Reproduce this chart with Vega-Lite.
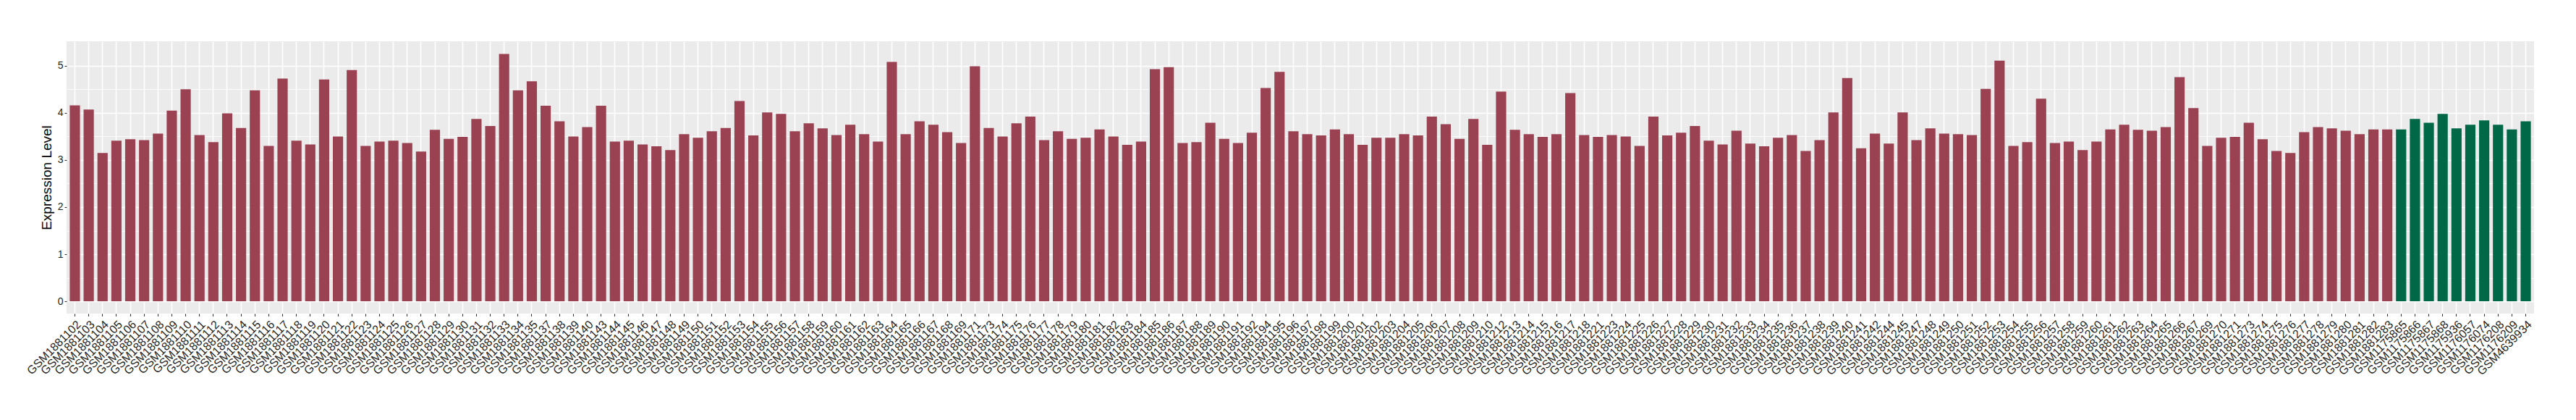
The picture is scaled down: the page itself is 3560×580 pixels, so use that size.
{
  "$schema": "https://vega.github.io/schema/vega-lite/v6.json",
  "width": 3410,
  "height": 376,
  "autosize": {"type": "none"},
  "padding": {"left": 92, "top": 57, "right": 58, "bottom": 147},
  "background": "white",
  "config": {
    "view": {"fill": "#EBEBEB", "stroke": null},
    "font": "Liberation Sans",
    "axis": {"domain": false, "tickColor": "#333333", "tickWidth": 1.1, "labelColor": "#1f1f1f", "titleColor": "#000000", "titleFontWeight": "normal"}
  },
  "data": {"values": [
    {"sample": "GSM1881102", "expr": 4.16, "group": "A"},
    {"sample": "GSM1881103", "expr": 4.07, "group": "A"},
    {"sample": "GSM1881104", "expr": 3.15, "group": "A"},
    {"sample": "GSM1881105", "expr": 3.41, "group": "A"},
    {"sample": "GSM1881106", "expr": 3.44, "group": "A"},
    {"sample": "GSM1881107", "expr": 3.42, "group": "A"},
    {"sample": "GSM1881108", "expr": 3.56, "group": "A"},
    {"sample": "GSM1881109", "expr": 4.05, "group": "A"},
    {"sample": "GSM1881110", "expr": 4.50, "group": "A"},
    {"sample": "GSM1881111", "expr": 3.53, "group": "A"},
    {"sample": "GSM1881112", "expr": 3.38, "group": "A"},
    {"sample": "GSM1881113", "expr": 3.99, "group": "A"},
    {"sample": "GSM1881114", "expr": 3.68, "group": "A"},
    {"sample": "GSM1881115", "expr": 4.48, "group": "A"},
    {"sample": "GSM1881116", "expr": 3.30, "group": "A"},
    {"sample": "GSM1881117", "expr": 4.73, "group": "A"},
    {"sample": "GSM1881118", "expr": 3.41, "group": "A"},
    {"sample": "GSM1881119", "expr": 3.33, "group": "A"},
    {"sample": "GSM1881120", "expr": 4.71, "group": "A"},
    {"sample": "GSM1881121", "expr": 3.50, "group": "A"},
    {"sample": "GSM1881122", "expr": 4.91, "group": "A"},
    {"sample": "GSM1881123", "expr": 3.30, "group": "A"},
    {"sample": "GSM1881124", "expr": 3.39, "group": "A"},
    {"sample": "GSM1881125", "expr": 3.41, "group": "A"},
    {"sample": "GSM1881126", "expr": 3.36, "group": "A"},
    {"sample": "GSM1881127", "expr": 3.18, "group": "A"},
    {"sample": "GSM1881128", "expr": 3.64, "group": "A"},
    {"sample": "GSM1881129", "expr": 3.45, "group": "A"},
    {"sample": "GSM1881130", "expr": 3.49, "group": "A"},
    {"sample": "GSM1881131", "expr": 3.87, "group": "A"},
    {"sample": "GSM1881132", "expr": 3.72, "group": "A"},
    {"sample": "GSM1881133", "expr": 5.25, "group": "A"},
    {"sample": "GSM1881134", "expr": 4.48, "group": "A"},
    {"sample": "GSM1881135", "expr": 4.67, "group": "A"},
    {"sample": "GSM1881137", "expr": 4.15, "group": "A"},
    {"sample": "GSM1881138", "expr": 3.82, "group": "A"},
    {"sample": "GSM1881139", "expr": 3.50, "group": "A"},
    {"sample": "GSM1881140", "expr": 3.70, "group": "A"},
    {"sample": "GSM1881143", "expr": 4.15, "group": "A"},
    {"sample": "GSM1881144", "expr": 3.39, "group": "A"},
    {"sample": "GSM1881145", "expr": 3.41, "group": "A"},
    {"sample": "GSM1881146", "expr": 3.33, "group": "A"},
    {"sample": "GSM1881147", "expr": 3.29, "group": "A"},
    {"sample": "GSM1881148", "expr": 3.21, "group": "A"},
    {"sample": "GSM1881149", "expr": 3.55, "group": "A"},
    {"sample": "GSM1881150", "expr": 3.47, "group": "A"},
    {"sample": "GSM1881151", "expr": 3.61, "group": "A"},
    {"sample": "GSM1881152", "expr": 3.68, "group": "A"},
    {"sample": "GSM1881153", "expr": 4.25, "group": "A"},
    {"sample": "GSM1881154", "expr": 3.52, "group": "A"},
    {"sample": "GSM1881155", "expr": 4.01, "group": "A"},
    {"sample": "GSM1881156", "expr": 3.98, "group": "A"},
    {"sample": "GSM1881157", "expr": 3.61, "group": "A"},
    {"sample": "GSM1881158", "expr": 3.78, "group": "A"},
    {"sample": "GSM1881159", "expr": 3.67, "group": "A"},
    {"sample": "GSM1881160", "expr": 3.53, "group": "A"},
    {"sample": "GSM1881161", "expr": 3.75, "group": "A"},
    {"sample": "GSM1881162", "expr": 3.55, "group": "A"},
    {"sample": "GSM1881163", "expr": 3.39, "group": "A"},
    {"sample": "GSM1881164", "expr": 5.08, "group": "A"},
    {"sample": "GSM1881165", "expr": 3.55, "group": "A"},
    {"sample": "GSM1881166", "expr": 3.82, "group": "A"},
    {"sample": "GSM1881167", "expr": 3.75, "group": "A"},
    {"sample": "GSM1881168", "expr": 3.59, "group": "A"},
    {"sample": "GSM1881169", "expr": 3.36, "group": "A"},
    {"sample": "GSM1881171", "expr": 4.99, "group": "A"},
    {"sample": "GSM1881173", "expr": 3.68, "group": "A"},
    {"sample": "GSM1881174", "expr": 3.50, "group": "A"},
    {"sample": "GSM1881175", "expr": 3.78, "group": "A"},
    {"sample": "GSM1881176", "expr": 3.92, "group": "A"},
    {"sample": "GSM1881177", "expr": 3.42, "group": "A"},
    {"sample": "GSM1881178", "expr": 3.61, "group": "A"},
    {"sample": "GSM1881179", "expr": 3.45, "group": "A"},
    {"sample": "GSM1881180", "expr": 3.47, "group": "A"},
    {"sample": "GSM1881181", "expr": 3.65, "group": "A"},
    {"sample": "GSM1881182", "expr": 3.50, "group": "A"},
    {"sample": "GSM1881183", "expr": 3.32, "group": "A"},
    {"sample": "GSM1881184", "expr": 3.39, "group": "A"},
    {"sample": "GSM1881185", "expr": 4.93, "group": "A"},
    {"sample": "GSM1881186", "expr": 4.97, "group": "A"},
    {"sample": "GSM1881187", "expr": 3.36, "group": "A"},
    {"sample": "GSM1881188", "expr": 3.38, "group": "A"},
    {"sample": "GSM1881189", "expr": 3.79, "group": "A"},
    {"sample": "GSM1881190", "expr": 3.45, "group": "A"},
    {"sample": "GSM1881191", "expr": 3.36, "group": "A"},
    {"sample": "GSM1881192", "expr": 3.58, "group": "A"},
    {"sample": "GSM1881194", "expr": 4.53, "group": "A"},
    {"sample": "GSM1881195", "expr": 4.87, "group": "A"},
    {"sample": "GSM1881196", "expr": 3.61, "group": "A"},
    {"sample": "GSM1881197", "expr": 3.55, "group": "A"},
    {"sample": "GSM1881198", "expr": 3.52, "group": "A"},
    {"sample": "GSM1881199", "expr": 3.65, "group": "A"},
    {"sample": "GSM1881200", "expr": 3.55, "group": "A"},
    {"sample": "GSM1881201", "expr": 3.32, "group": "A"},
    {"sample": "GSM1881202", "expr": 3.47, "group": "A"},
    {"sample": "GSM1881203", "expr": 3.47, "group": "A"},
    {"sample": "GSM1881204", "expr": 3.55, "group": "A"},
    {"sample": "GSM1881205", "expr": 3.52, "group": "A"},
    {"sample": "GSM1881206", "expr": 3.92, "group": "A"},
    {"sample": "GSM1881207", "expr": 3.76, "group": "A"},
    {"sample": "GSM1881208", "expr": 3.45, "group": "A"},
    {"sample": "GSM1881209", "expr": 3.87, "group": "A"},
    {"sample": "GSM1881210", "expr": 3.32, "group": "A"},
    {"sample": "GSM1881212", "expr": 4.45, "group": "A"},
    {"sample": "GSM1881213", "expr": 3.64, "group": "A"},
    {"sample": "GSM1881214", "expr": 3.55, "group": "A"},
    {"sample": "GSM1881215", "expr": 3.49, "group": "A"},
    {"sample": "GSM1881216", "expr": 3.55, "group": "A"},
    {"sample": "GSM1881217", "expr": 4.42, "group": "A"},
    {"sample": "GSM1881218", "expr": 3.53, "group": "A"},
    {"sample": "GSM1881221", "expr": 3.49, "group": "A"},
    {"sample": "GSM1881223", "expr": 3.53, "group": "A"},
    {"sample": "GSM1881224", "expr": 3.50, "group": "A"},
    {"sample": "GSM1881225", "expr": 3.30, "group": "A"},
    {"sample": "GSM1881226", "expr": 3.92, "group": "A"},
    {"sample": "GSM1881227", "expr": 3.52, "group": "A"},
    {"sample": "GSM1881228", "expr": 3.58, "group": "A"},
    {"sample": "GSM1881229", "expr": 3.72, "group": "A"},
    {"sample": "GSM1881230", "expr": 3.41, "group": "A"},
    {"sample": "GSM1881231", "expr": 3.33, "group": "A"},
    {"sample": "GSM1881232", "expr": 3.62, "group": "A"},
    {"sample": "GSM1881233", "expr": 3.35, "group": "A"},
    {"sample": "GSM1881234", "expr": 3.29, "group": "A"},
    {"sample": "GSM1881235", "expr": 3.47, "group": "A"},
    {"sample": "GSM1881236", "expr": 3.53, "group": "A"},
    {"sample": "GSM1881237", "expr": 3.19, "group": "A"},
    {"sample": "GSM1881238", "expr": 3.42, "group": "A"},
    {"sample": "GSM1881239", "expr": 4.01, "group": "A"},
    {"sample": "GSM1881240", "expr": 4.74, "group": "A"},
    {"sample": "GSM1881241", "expr": 3.25, "group": "A"},
    {"sample": "GSM1881242", "expr": 3.56, "group": "A"},
    {"sample": "GSM1881244", "expr": 3.35, "group": "A"},
    {"sample": "GSM1881245", "expr": 4.01, "group": "A"},
    {"sample": "GSM1881247", "expr": 3.42, "group": "A"},
    {"sample": "GSM1881248", "expr": 3.67, "group": "A"},
    {"sample": "GSM1881249", "expr": 3.56, "group": "A"},
    {"sample": "GSM1881250", "expr": 3.55, "group": "A"},
    {"sample": "GSM1881251", "expr": 3.53, "group": "A"},
    {"sample": "GSM1881252", "expr": 4.51, "group": "A"},
    {"sample": "GSM1881253", "expr": 5.11, "group": "A"},
    {"sample": "GSM1881254", "expr": 3.30, "group": "A"},
    {"sample": "GSM1881255", "expr": 3.38, "group": "A"},
    {"sample": "GSM1881256", "expr": 4.30, "group": "A"},
    {"sample": "GSM1881257", "expr": 3.36, "group": "A"},
    {"sample": "GSM1881258", "expr": 3.39, "group": "A"},
    {"sample": "GSM1881259", "expr": 3.21, "group": "A"},
    {"sample": "GSM1881260", "expr": 3.39, "group": "A"},
    {"sample": "GSM1881261", "expr": 3.65, "group": "A"},
    {"sample": "GSM1881262", "expr": 3.75, "group": "A"},
    {"sample": "GSM1881263", "expr": 3.64, "group": "A"},
    {"sample": "GSM1881264", "expr": 3.62, "group": "A"},
    {"sample": "GSM1881265", "expr": 3.70, "group": "A"},
    {"sample": "GSM1881266", "expr": 4.76, "group": "A"},
    {"sample": "GSM1881267", "expr": 4.10, "group": "A"},
    {"sample": "GSM1881269", "expr": 3.30, "group": "A"},
    {"sample": "GSM1881270", "expr": 3.47, "group": "A"},
    {"sample": "GSM1881271", "expr": 3.49, "group": "A"},
    {"sample": "GSM1881273", "expr": 3.79, "group": "A"},
    {"sample": "GSM1881274", "expr": 3.44, "group": "A"},
    {"sample": "GSM1881275", "expr": 3.19, "group": "A"},
    {"sample": "GSM1881276", "expr": 3.15, "group": "A"},
    {"sample": "GSM1881277", "expr": 3.59, "group": "A"},
    {"sample": "GSM1881278", "expr": 3.70, "group": "A"},
    {"sample": "GSM1881279", "expr": 3.67, "group": "A"},
    {"sample": "GSM1881280", "expr": 3.62, "group": "A"},
    {"sample": "GSM1881281", "expr": 3.55, "group": "A"},
    {"sample": "GSM1881282", "expr": 3.65, "group": "A"},
    {"sample": "GSM1881283", "expr": 3.65, "group": "A"},
    {"sample": "GSM1175865", "expr": 3.65, "group": "B"},
    {"sample": "GSM1175866", "expr": 3.87, "group": "B"},
    {"sample": "GSM1175867", "expr": 3.79, "group": "B"},
    {"sample": "GSM1175868", "expr": 3.98, "group": "B"},
    {"sample": "GSM1175936", "expr": 3.67, "group": "B"},
    {"sample": "GSM1176057", "expr": 3.75, "group": "B"},
    {"sample": "GSM1176074", "expr": 3.84, "group": "B"},
    {"sample": "GSM1176208", "expr": 3.75, "group": "B"},
    {"sample": "GSM1176209", "expr": 3.65, "group": "B"},
    {"sample": "GSM4639934", "expr": 3.82, "group": "B"}
  ]},
  "layer": [
    {
      "mark": {"type": "bar", "opacity": 0},
      "encoding": {
        "x": {"field": "sample", "type": "nominal", "sort": null,
              "scale": {"paddingInner": 0.26, "paddingOuter": 0.23},
              "axis": {"title": null, "grid": true, "gridColor": "#FFFFFF", "gridWidth": 1.6, "bandPosition": 0.5,
                       "labelAngle": -45, "labelAlign": "right", "labelBaseline": "top", "labelFontSize": 16,
                       "labelOverlap": false, "labelPadding": 3, "tickSize": 3.5, "labelBound": false}},
        "y": {"field": "expr", "type": "quantitative",
              "scale": {"domain": [-0.26, 5.52], "nice": false, "zero": false},
              "axis": {"orient": "left", "values": [0.5, 1.5, 2.5, 3.5, 4.5], "grid": true, "gridColor": "#FFFFFF",
                       "gridWidth": 0.8, "labels": false, "ticks": false, "domain": false, "title": null}}
      }
    },
    {
      "mark": {"type": "bar"},
      "encoding": {
        "x": {"field": "sample", "type": "nominal", "sort": null},
        "y": {"field": "expr", "type": "quantitative",
              "axis": {"orient": "left", "values": [0, 1, 2, 3, 4, 5], "grid": true, "gridColor": "#FFFFFF", "gridWidth": 1.6,
                       "title": "Expression Level", "titleFontSize": 19, "titlePadding": 5,
                       "labelFontSize": 14, "labelPadding": 2, "tickSize": 3}},
        "color": {"field": "group", "type": "nominal",
                  "scale": {"domain": ["A", "B"], "range": ["#9A4152", "#006847"]}, "legend": null}
      }
    }
  ],
  "resolve": {"axis": {"y": "independent"}}
}
